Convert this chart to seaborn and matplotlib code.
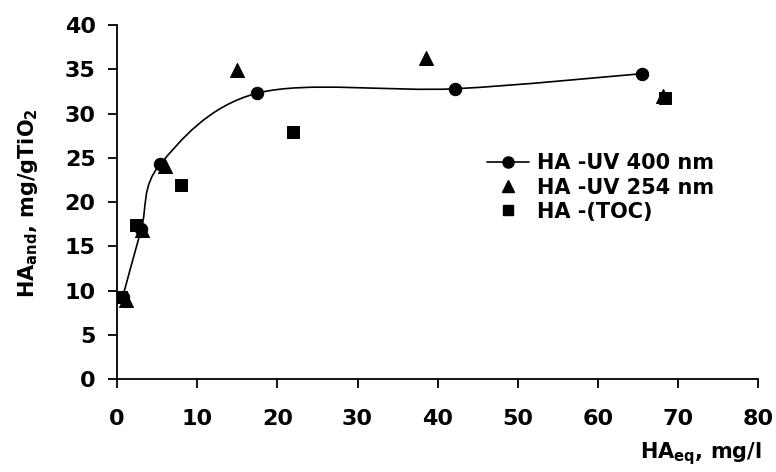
import matplotlib
matplotlib.use('Agg')

import numpy as np
import seaborn as sns
from matplotlib import pyplot as plt
from matplotlib.path import Path
from matplotlib.patches import PathPatch
from matplotlib.lines import Line2D

# HA equilibrium concentration (mg/l) and adsorbed amount (mg/g TiO2)
uv400_x = [0.7, 3.0, 5.4, 17.5, 42.2, 65.5]
uv400_y = [9.3, 16.9, 24.3, 32.3, 32.8, 34.5]

uv254_x = [1.1, 3.1, 6.0, 15.0, 38.5, 68.1]
uv254_y = [8.9, 16.8, 24.1, 34.9, 36.3, 32.0]

toc_x = [0.5, 2.4, 8.0, 21.9, 68.4]
toc_y = [9.3, 17.4, 21.9, 27.9, 31.7]

labels = ["HA -UV 400 nm", "HA -UV 254 nm", "HA -(TOC)"]

sns.set_style("ticks", {'axes.edgecolor': 'black', 'text.color': 'black',
                        'axes.labelcolor': 'black', 'xtick.color': 'black',
                        'ytick.color': 'black'})
plt.rcParams['font.family'] = ['DejaVu Sans']
plt.rcParams['font.weight'] = 'bold'
plt.rcParams['mathtext.fontset'] = 'dejavusans'
plt.rcParams['mathtext.default'] = 'bf'

fig = plt.figure(figsize=(7.76, 4.72), dpi=100)
ax = fig.add_axes([0.151, 0.197, 0.826, 0.750])

# smoothed line through the UV 400 points (Catmull-Rom as Bezier segments)
px = np.array(uv400_x)
py = np.array(uv400_y)
verts = [(px[0], py[0])]
codes = [Path.MOVETO]
n = len(px)
for i in range(n - 1):
    a = max(i - 1, 0)
    b = min(i + 2, n - 1)
    c1 = (px[i] + (px[i + 1] - px[a]) / 6, py[i] + (py[i + 1] - py[a]) / 6)
    c2 = (px[i + 1] - (px[b] - px[i]) / 6, py[i + 1] - (py[b] - py[i]) / 6)
    verts += [c1, c2, (px[i + 1], py[i + 1])]
    codes += [Path.CURVE4] * 3
ax.add_patch(PathPatch(Path(verts, codes), facecolor='none', edgecolor='black', lw=1.2, zorder=2))

sns.scatterplot(x=uv400_x, y=uv400_y, marker='o', s=80, color='black', edgecolor='black', ax=ax, zorder=3)
sns.scatterplot(x=uv254_x, y=uv254_y, marker='^', s=100, color='black', edgecolor='black', ax=ax, zorder=3)
sns.scatterplot(x=toc_x, y=toc_y, marker='s', s=72, color='black', edgecolor='black', ax=ax, zorder=3)

ax.set_xlim(0, 80)
ax.set_ylim(0, 40)
ax.set_xticks(range(0, 81, 10))
ax.set_yticks(range(0, 41, 5))
sns.despine(ax=ax)
ax.spines['left'].set_linewidth(1.3)
ax.spines['bottom'].set_linewidth(1.3)
ax.tick_params(axis='both', direction='out', length=6.5, width=1.3, labelsize=16, colors='black')
ax.tick_params(axis='x', pad=15)
ax.tick_params(axis='y', pad=9)

fig.text(28 / 776, 1 - 203 / 472, r"HA$_{and}$, mg/gTiO$_{2}$", fontsize=15,
         rotation=90, ha='center', va='center', color='black')
fig.text(762 / 776, 1 - 458 / 472, r"HA$_{eq}$, mg/l", fontsize=15,
         ha='right', va='baseline', color='black')

handles = [
    Line2D([], [], color='black', lw=1.2, marker='o', markersize=8),
    Line2D([], [], color='black', lw=0, marker='^', markersize=8),
    Line2D([], [], color='black', lw=0, marker='s', markersize=7),
]
leg = ax.legend(handles, labels, loc='upper left', bbox_to_anchor=(479 / 776, 1 - 145 / 472),
                bbox_transform=fig.transFigure, borderaxespad=0, frameon=False,
                fontsize=15, handlelength=2.0, handletextpad=0.4, labelspacing=0.2)
for t in leg.get_texts():
    t.set_color('black')

plt.savefig("out.png", dpi=100)
